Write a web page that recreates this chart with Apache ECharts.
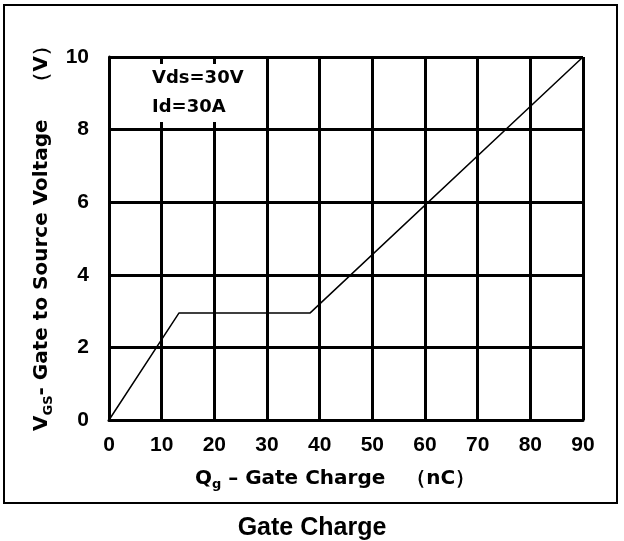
<!DOCTYPE html>
<html>
<head>
<meta charset="utf-8">
<script src="https://cdn.jsdelivr.net/npm/echarts@6/dist/echarts.min.js"></script>
<style>
  html, body { margin: 0; padding: 0; background: #fff; }
  #main { width: 624px; height: 541px; }
</style>
</head>
<body>
<div id="main"></div>
<script>
// curve points
const gateCharge = [0, 13.3, 38.2, 90];      // nC
const gateVoltage = [0, 2.95, 2.95, 10];     // V
const xTicks = [0, 10, 20, 30, 40, 50, 60, 70, 80, 90];
const yTicks = [0, 2, 4, 6, 8, 10];

const tickFont = '"Liberation Sans Narrow", "Arial Narrow", "Liberation Sans", Arial, sans-serif';
const nameFont = '"DejaVu Sans", Verdana, sans-serif';
const titleFont = '"Liberation Sans", Arial, sans-serif';

const chart = echarts.init(document.getElementById('main'));

chart.setOption({
    animation: false,
    backgroundColor: '#fff',
    grid: { left: 109, right: 41, top: 57, bottom: 121 },
    title: [
        {
            text: 'Gate Charge',
            left: 'center',
            top: 511,
            textStyle: { fontFamily: titleFont, fontSize: 25, fontWeight: 'bold', color: '#000' }
        },
        {
            // conditions box, white background hides the grid lines behind it
            text: 'Vds=30V\nId=30A',
            left: 111,
            top: 64,
            padding: [0, 17, 0, 41],
            backgroundColor: '#fff',
            textStyle: { fontFamily: nameFont, fontSize: 18, fontWeight: 'bold', color: '#000', lineHeight: 29 }
        }
    ],
    xAxis: {
        type: 'value',
        min: xTicks[0],
        max: xTicks[xTicks.length - 1],
        interval: 10,
        name: 'Q{sub|g} – Gate Charge   （nC）',
        nameLocation: 'middle',
        nameGap: 46,
        nameTextStyle: {
            fontFamily: nameFont, fontSize: 20, fontWeight: 'bold', color: '#000',
            padding: [0, 22, 0, 0],
            rich: { sub: { fontFamily: nameFont, fontSize: 13, color: '#000', padding: [12, 0, 0, 0] } }
        },
        axisLine: { show: true, lineStyle: { color: '#000', width: 3 } },
        axisTick: { show: false },
        axisLabel: { fontFamily: tickFont, fontSize: 21, fontWeight: 'bold', color: '#000', margin: 15 },
        splitLine: { show: true, lineStyle: { color: '#000', width: 3 } }
    },
    yAxis: {
        type: 'value',
        min: yTicks[0],
        max: yTicks[yTicks.length - 1],
        interval: 2,
        name: 'V{sub|GS}- Gate to Source Voltage    （V）',
        nameLocation: 'middle',
        nameRotate: 90,
        nameGap: 53,
        nameTextStyle: {
            fontFamily: nameFont, fontSize: 20, fontWeight: 'bold', color: '#000',
            padding: [0, 0, 0, 10],
            rich: { sub: { fontFamily: nameFont, fontSize: 13, color: '#000', padding: [12, 0, 0, 0] } }
        },
        axisLine: { show: true, lineStyle: { color: '#000', width: 3 } },
        axisTick: { show: false },
        axisLabel: { fontFamily: tickFont, fontSize: 21, fontWeight: 'bold', color: '#000', margin: 20 },
        splitLine: { show: true, lineStyle: { color: '#000', width: 3 } }
    },
    series: [{
        type: 'line',
        data: gateCharge.map((q, i) => [q, gateVoltage[i]]),
        showSymbol: false,
        lineStyle: { color: '#000', width: 1.5 },
        z: 1
    }],
    graphic: [{
        type: 'rect',
        shape: { x: 4, y: 5, width: 613, height: 498 },
        style: { fill: 'none', stroke: '#000', lineWidth: 2 },
        z: -1
    }]
});
</script>
</body>
</html>
